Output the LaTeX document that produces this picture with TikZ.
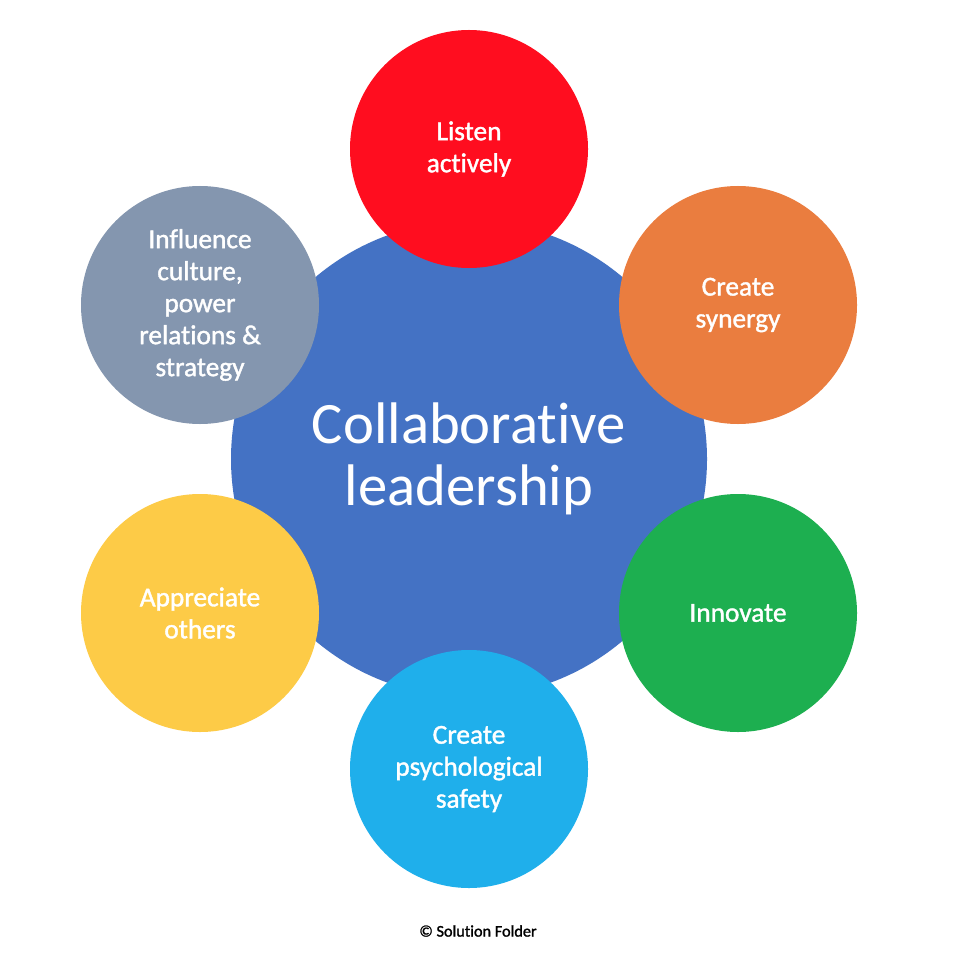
\documentclass[tikz,border=0pt]{standalone}
\usepackage{fontspec}
\setmainfont{Carlito}[Ligatures=NoCommon]
\newfontfamily\petalfont{Carlito}[Ligatures=NoCommon, FakeBold=1.4]
\definecolor{hubblue}{HTML}{4472C4}
\definecolor{listenred}{HTML}{FF0D1F}
\definecolor{synergyorange}{HTML}{EA7D3F}
\definecolor{innovategreen}{HTML}{1DAF50}
\definecolor{safetyblue}{HTML}{1FAFEB}
\definecolor{othersyellow}{HTML}{FDCB47}
\definecolor{influencegray}{HTML}{8496AF}
\tikzset{
  hub/.style={circle, fill=hubblue, minimum size=357pt, inner sep=0pt,
    text=white, align=center, font=\fontsize{44}{46.5}\selectfont},
  petal/.style={circle, fill=#1, minimum size=178.5pt, inner sep=0pt,
    text=white, align=center, font=\petalfont\fontsize{20.5}{24}\selectfont}
}
\begin{document}
\begin{tikzpicture}[x=0.75pt, y=-0.75pt]
    \useasboundingbox[fill=white] (0, 0) rectangle (952, 966);
    \node[hub] (hub) at(469, 459){Collaborative\\leadership};

        \node[petal=listenred] (listen) at(469, 149){Listen\\actively};
        \node[petal=synergyorange] (synergy) at(738, 305){Create\\synergy};
        \node[petal=innovategreen] (innovate) at(738, 613){Innovate};
        \node[petal=safetyblue] (safety) at(469, 769){Create\\psychological\\safety};
        \node[petal=othersyellow] (others) at(200, 613){Appreciate\\others};
        \node[petal=influencegray] (influence) at(200, 305){Influence\\culture,\\power\\relations \&\\strategy};

    \node[font=\petalfont\fontsize{12.2}{14}\selectfont] (credit) at(478, 931){\textcopyright{} Solution Folder};
\end{tikzpicture}
\end{document}
